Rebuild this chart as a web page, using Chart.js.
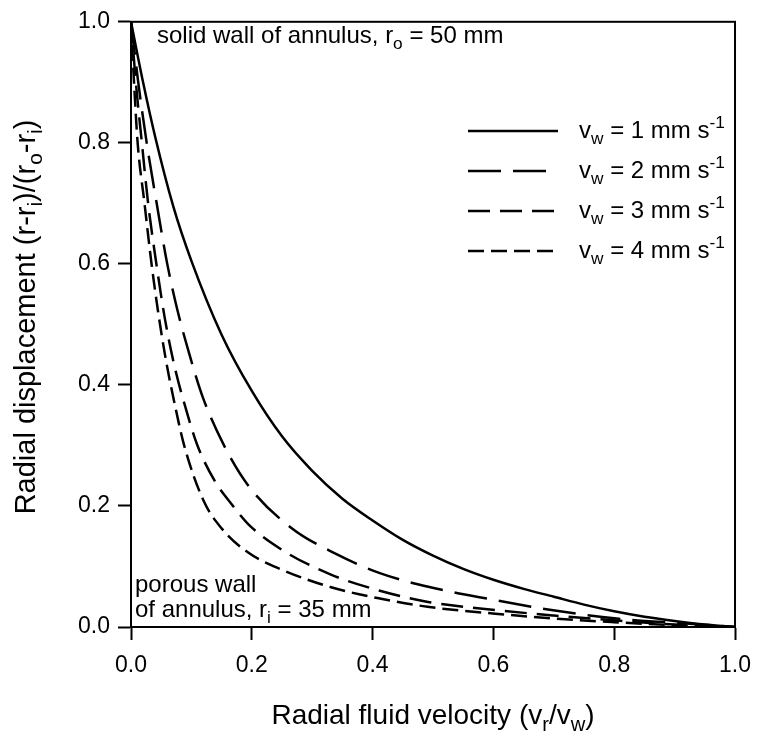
<!DOCTYPE html>
<html>
<head>
<meta charset="utf-8">
<script src="https://cdn.jsdelivr.net/npm/chart.js@4.4.0/dist/chart.umd.min.js"></script>
<style>
  html, body { margin: 0; padding: 0; background: #fff; }
  #wrap { width: 763px; height: 738px; }
</style>
</head>
<body>
<div id="wrap"><canvas id="myChart" width="763" height="738"></canvas></div>
<script>
"use strict";

// radial fluid velocity (vr/vw) and radial displacement
var x1 = [0, 0.02, 0.04, 0.07, 0.1, 0.15, 0.2, 0.25, 0.3, 0.35, 0.4, 0.45, 0.5, 0.55, 0.6, 0.65, 0.7, 0.75, 0.8, 0.85, 0.9, 0.95, 1.0];
var y1 = [1, 0.9, 0.81, 0.695, 0.605, 0.483, 0.39, 0.315, 0.258, 0.212, 0.176, 0.144, 0.118, 0.096, 0.078, 0.063, 0.05, 0.037, 0.026, 0.017, 0.010, 0.004, 0];

var x2 = [0, 0.012, 0.026, 0.042, 0.06, 0.077, 0.096, 0.118, 0.154, 0.194, 0.265, 0.341, 0.412, 0.494, 0.6, 0.696, 0.804, 0.913, 1.0];
var y2 = [1, 0.9, 0.8, 0.703, 0.6, 0.523, 0.453, 0.382, 0.30, 0.234, 0.164, 0.12, 0.089, 0.066, 0.045, 0.028, 0.014, 0.006, 0];

var x3 = [0, 0.008, 0.018, 0.028, 0.042, 0.056, 0.072, 0.091, 0.11, 0.14, 0.165, 0.194, 0.249, 0.33, 0.412, 0.494, 0.603, 0.7, 0.8, 0.9, 1.0];
var y3 = [1, 0.9, 0.8, 0.703, 0.6, 0.51, 0.431, 0.36, 0.30, 0.239, 0.205, 0.17, 0.128, 0.087, 0.06, 0.041, 0.028, 0.019, 0.011, 0.004, 0];

var x4 = [0, 0.005, 0.011, 0.022, 0.034, 0.045, 0.058, 0.072, 0.088, 0.12, 0.15, 0.194, 0.249, 0.33, 0.412, 0.494, 0.603, 0.7, 0.8, 0.9, 1.0];
var y4 = [1, 0.9, 0.8, 0.703, 0.6, 0.52, 0.44, 0.37, 0.30, 0.209, 0.163, 0.123, 0.095, 0.066, 0.047, 0.033, 0.022, 0.014, 0.008, 0.003, 0];

var wallVelocities = ['1', '2', '3', '4'];   // vw, mm s-1
var dashes = [[], [33, 12], [22, 10], [16, 7]];
var tickValues = [0, 0.2, 0.4, 0.6, 0.8, 1.0];

var FONT = "'Liberation Sans', Arial, Helvetica, sans-serif";
var SUB = 0.72;

function pts(xs, ys) {
  var out = [];
  for (var i = 0; i < xs.length; i++) out.push({ x: xs[i], y: ys[i] });
  return out;
}

// text with sub (1) / superscript (2) pieces
function richWidth(ctx, parts, size) {
  var w = 0;
  parts.forEach(function (p) {
    ctx.font = (p[1] ? size * SUB : size) + 'px ' + FONT;
    w += ctx.measureText(p[0]).width;
  });
  return w;
}
function richText(ctx, parts, x, y, size, align) {
  var cx = x;
  if (align === 'center') cx = x - richWidth(ctx, parts, size) / 2;
  ctx.textAlign = 'left';
  ctx.textBaseline = 'alphabetic';
  parts.forEach(function (p) {
    var s = p[1] ? size * SUB : size;
    var dy = p[1] === 1 ? size * 0.25 : (p[1] === 2 ? -size * 0.4 : 0);
    ctx.font = s + 'px ' + FONT;
    ctx.fillText(p[0], cx, y + dy);
    cx += ctx.measureText(p[0]).width;
  });
}

var decorations = {
  id: 'decorations',
  afterDraw: function (chart) {
    var ctx = chart.ctx, a = chart.chartArea;
    ctx.save();
    ctx.strokeStyle = '#000';
    ctx.fillStyle = '#000';
    ctx.lineWidth = 2;
    ctx.setLineDash([]);
    ctx.strokeRect(a.left, a.top, a.right - a.left, a.bottom - a.top);

    // axis titles
    richText(ctx, [['Radial fluid velocity (v', 0], ['r', 1], ['/v', 0], ['w', 1], [')', 0]],
      (a.left + a.right) / 2, 724, 28, 'center');
    ctx.save();
    ctx.translate(35, 317);
    ctx.rotate(-Math.PI / 2);
    richText(ctx, [['Radial displacement (r-r', 0], ['i', 1], [')/(r', 0], ['o', 1], ['-r', 0], ['i', 1], [')', 0]],
      0, 0, 29, 'center');
    ctx.restore();

    // wall notes
    richText(ctx, [['solid wall of annulus, r', 0], ['o', 1], [' = 50 mm', 0]], 157, 43, 24);
    richText(ctx, [['porous wall', 0]], 135, 592, 24);
    richText(ctx, [['of annulus, r', 0], ['i', 1], [' = 35 mm', 0]], 135, 617, 24);

    // legend
    chart.data.datasets.forEach(function (ds, i) {
      var ly = 131 + 40 * i;
      ctx.lineWidth = ds.borderWidth;
      ctx.setLineDash(ds.borderDash);
      ctx.beginPath();
      ctx.moveTo(468, ly);
      ctx.lineTo(558, ly);
      ctx.stroke();
      ctx.setLineDash([]);
      richText(ctx, [['v', 0], ['w', 1], [' = ' + wallVelocities[i] + ' mm s', 0], ['-1', 2]], 579, ly + 7, 24);
    });
    ctx.restore();
  }
};

var ctx = document.getElementById('myChart').getContext('2d');
var myChart = new Chart(ctx, {
  type: 'scatter',
  data: {
    datasets: [
      { label: 'vw = 1', data: pts(x1, y1) },
      { label: 'vw = 2', data: pts(x2, y2) },
      { label: 'vw = 3', data: pts(x3, y3) },
      { label: 'vw = 4', data: pts(x4, y4) }
    ].map(function (d, i) {
      d.showLine = true;
      d.borderColor = '#000';
      d.backgroundColor = '#000';
      d.borderWidth = 2.5;
      d.borderDash = dashes[i];
      d.pointRadius = 0;
      d.cubicInterpolationMode = 'monotone';
      return d;
    })
  },
  options: {
    responsive: false,
    animation: false,
    layout: { padding: { top: 15, right: 20, left: 0, bottom: 0 } },
    plugins: { legend: { display: false }, tooltip: { enabled: false } },
    scales: {
      x: {
        type: 'linear', min: 0, max: 1,
        afterBuildTicks: function (scale) { scale.ticks = tickValues.map(function (v) { return { value: v }; }); },
        afterFit: function (scale) { scale.height = 111; },
        ticks: { color: '#000', padding: 12, maxRotation: 0, font: { family: FONT, size: 23 },
          callback: function (v) { return v.toFixed(1); } },
        grid: { drawOnChartArea: false, tickLength: 13, tickColor: '#000', tickWidth: 2 },
        border: { color: '#000', width: 2 }
      },
      y: {
        type: 'linear', min: 0, max: 1,
        afterBuildTicks: function (scale) { scale.ticks = tickValues.map(function (v) { return { value: v }; }); },
        afterFit: function (scale) { scale.width = 131; },
        ticks: { color: '#000', padding: 8, font: { family: FONT, size: 23 },
          callback: function (v) { return v.toFixed(1); } },
        grid: { drawOnChartArea: false, tickLength: 13, tickColor: '#000', tickWidth: 2 },
        border: { color: '#000', width: 2 }
      }
    }
  },
  plugins: [decorations]
});
</script>
</body>
</html>
